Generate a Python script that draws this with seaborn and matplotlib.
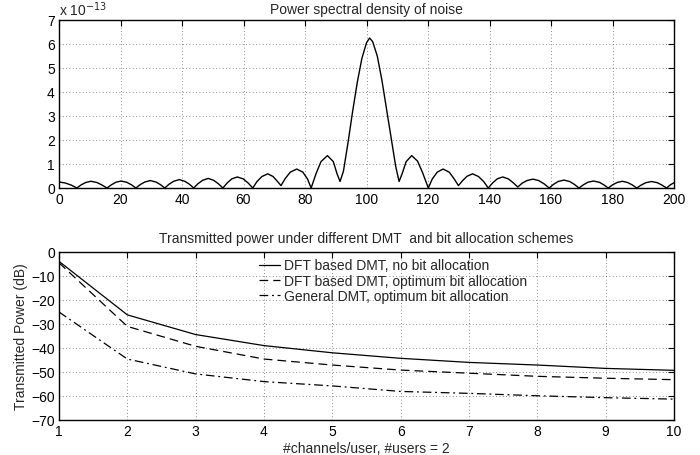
import numpy as np
import matplotlib
matplotlib.use("Agg")
import matplotlib.pyplot as plt
import seaborn as sns

# ---- Top panel: PSD of noise (values in units of 1e-13) ----
psd_x = [0, 2, 4, 5.8,
         7.2, 8.7, 10.4, 12.3, 13.9, 15.6,
         17.0, 18.5, 20.2, 22.0, 23.6, 25.0,
         26.4, 27.9, 29.7, 31.5, 33.0, 34.4,
         35.8, 37.3, 39.1, 40.9, 42.4, 43.8,
         45.2, 46.7, 48.5, 50.3, 51.8, 53.3,
         54.7, 56.2, 58.0, 59.9, 61.5, 63.0,
         64.4, 66.0, 67.9, 69.6, 71.0, 72.2,
         73.5, 75.2, 77.3, 79.3, 80.8, 82.0,
         83.6, 85.2, 87.3, 89.2, 90.4, 91.4,
         92.5, 94.0, 95.5, 97.0, 98.5, 100.0, 101.0, 102.0, 103.5, 105.0, 106.5, 108.0, 109.5, 110.6,
         111.6, 112.9, 114.7, 116.6, 118.3, 120.1,
         121.4, 123.0, 124.9, 126.9, 128.5, 129.9,
         131.2, 132.7, 134.5, 136.4, 138.1, 139.6,
         141.0, 142.5, 144.3, 146.1, 147.7, 149.2,
         150.6, 152.2, 154.1, 156.0, 157.8, 159.4,
         160.8, 162.3, 164.2, 166.1, 167.6, 169.1,
         170.5, 172.0, 173.8, 175.7, 177.2, 178.6,
         180.0, 181.5, 183.2, 184.9, 186.4, 187.9,
         189.3, 190.8, 192.7, 194.6, 196.1, 197.6,
         198.8, 200.0]
psd_y = [0.25, 0.21, 0.12, 0.0,
         0.13, 0.23, 0.28, 0.23, 0.13, 0.0,
         0.13, 0.24, 0.29, 0.24, 0.13, 0.0,
         0.14, 0.25, 0.31, 0.25, 0.14, 0.0,
         0.16, 0.28, 0.35, 0.28, 0.16, 0.0,
         0.18, 0.32, 0.40, 0.32, 0.18, 0.0,
         0.21, 0.38, 0.46, 0.38, 0.21, 0.0,
         0.27, 0.48, 0.59, 0.48, 0.28, 0.10,
         0.38, 0.66, 0.79, 0.66, 0.38, 0.0,
         0.60, 1.10, 1.35, 1.10, 0.60, 0.27,
         0.70, 1.90, 3.20, 4.40, 5.40, 6.05, 6.25, 6.10, 5.50, 4.50, 3.30, 2.10, 0.90, 0.27,
         0.60, 1.10, 1.35, 1.12, 0.62, 0.0,
         0.38, 0.66, 0.79, 0.66, 0.38, 0.10,
         0.30, 0.49, 0.59, 0.48, 0.27, 0.0,
         0.21, 0.38, 0.46, 0.38, 0.22, 0.04,
         0.20, 0.31, 0.37, 0.31, 0.17, 0.0,
         0.15, 0.27, 0.33, 0.27, 0.15, 0.0,
         0.13, 0.24, 0.29, 0.24, 0.13, 0.0,
         0.13, 0.23, 0.28, 0.23, 0.13, 0.0,
         0.12, 0.22, 0.27, 0.22, 0.12, 0.0,
         0.13, 0.22]
psd_xticks = [0, 20, 40, 60, 80, 100, 120, 140, 160, 180, 200]
psd_yticks = [0, 1, 2, 3, 4, 5, 6, 7]

# ---- Bottom panel: transmitted power ----
channels = [1, 2, 3, 4, 5, 6, 7, 8, 9, 10]
dft_no_alloc = [-3.9, -26.2, -34.4, -39.0, -42.0, -44.3, -46.0, -47.1, -48.5, -49.3]
dft_opt_alloc = [-4.5, -31.0, -39.3, -44.6, -47.1, -49.2, -50.5, -51.8, -52.6, -53.2]
gen_opt_alloc = [-25.0, -44.6, -50.8, -54.0, -55.8, -58.1, -58.9, -59.9, -60.7, -61.3]
series_labels = ["DFT based DMT, no bit allocation",
                 "DFT based DMT, optimum bit allocation",
                 "General DMT, optimum bit allocation"]
pow_yticks = [-70, -60, -50, -40, -30, -20, -10, 0]

sns.set_style("white")
plt.rcParams['font.family'] = ['Liberation Sans', 'DejaVu Sans']
plt.rcParams['axes.unicode_minus'] = True

fig = plt.figure(figsize=(7.0, 4.56), dpi=100)
ax1 = fig.add_axes([59/700, 1 - 189/456, 615/700, 168/456])
ax2 = fig.add_axes([59/700, 1 - 421/456, 615/700, 168/456])

FS = 10

def style(ax):
    for s in ax.spines.values():
        s.set_color('k')
        s.set_linewidth(1.0)
        s.set_visible(True)
    ax.tick_params(direction='in', top=True, right=True, length=4, width=0.8,
                   labelsize=FS, colors='k', pad=3)
    ax.grid(True, linestyle=(0, (1, 3)), color='k', linewidth=0.6, alpha=0.6)
    ax.set_facecolor('white')

sns.lineplot(x=psd_x, y=psd_y, ax=ax1, color='k', linewidth=1.0, sort=False)
ax1.set_xlim(0, 200)
ax1.set_ylim(0, 7)
ax1.set_xticks(psd_xticks)
ax1.set_yticks(psd_yticks)
style(ax1)
ax1.set_title("Power spectral density of noise", fontsize=FS, pad=5)
ax1.text(0.0, 1.01, r"x 10$^{-13}$", transform=ax1.transAxes, fontsize=FS,
         ha='left', va='bottom')

sns.lineplot(x=channels, y=dft_no_alloc, ax=ax2, color='k', linewidth=0.9,
             label=series_labels[0])
sns.lineplot(x=channels, y=dft_opt_alloc, ax=ax2, color='k', linewidth=0.9,
             linestyle=(0, (7, 4)), label=series_labels[1])
sns.lineplot(x=channels, y=gen_opt_alloc, ax=ax2, color='k', linewidth=0.9,
             linestyle=(0, (7, 3, 1.5, 3)), label=series_labels[2])
ax2.set_xlim(1, 10)
ax2.set_ylim(-70, 0)
ax2.set_xticks(channels)
ax2.set_yticks(pow_yticks)
style(ax2)
ax2.set_title("Transmitted power under different DMT  and bit allocation schemes",
              fontsize=FS, pad=7)
ax2.set_xlabel("#channels/user, #users = 2", fontsize=FS, labelpad=2)
ax2.set_ylabel("Transmitted Power (dB)", fontsize=FS, labelpad=2)
leg = ax2.legend(loc='upper left', bbox_to_anchor=(0.31, 1.02), frameon=False,
                 fontsize=FS, handlelength=1.5, handletextpad=0.3,
                 labelspacing=0.1, borderpad=0.2)

fig.savefig("out.png", dpi=100, facecolor='white')
